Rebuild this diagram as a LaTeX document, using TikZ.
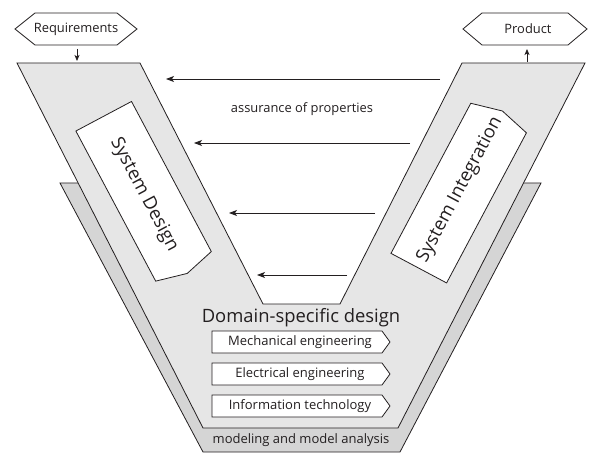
\documentclass[tikz,border=0pt]{standalone}
\usepackage{fontspec}
\setmainfont{Open Sans}
\usetikzlibrary{arrows.meta}
\definecolor{frontgray}{HTML}{E6E6E6}
\definecolor{backgray}{HTML}{D5D5D5}
\definecolor{ink}{HTML}{231F20}
\begin{document}
\begin{tikzpicture}[x=1pt,y=-1pt,line join=miter,
  outline/.style={draw=ink,line width=0.8pt},
  assure/.style={draw=ink,line width=0.9pt,-{Stealth[length=8pt,width=6pt,inset=2pt]}},
  smallarrow/.style={draw=ink,line width=0.8pt,-{Stealth[length=6pt,width=5pt,inset=1.5pt]}},
  lbl/.style={font=\fontsize{12.9}{15}\selectfont,text=ink,inner sep=0pt},
  big/.style={font=\fontsize{18.4}{21}\selectfont,text=ink,inner sep=0pt},
  mid/.style={font=\fontsize{13}{15}\selectfont,text=ink,inner sep=0pt},
  boxfill/.style={fill=white,draw=ink,line width=0.8pt}]
\useasboundingbox (0,0) rectangle (600,465);
% back layer
\path[fill=backgray,outline] (60,183) -- (100,183) -- (220,410) -- (380,410) -- (500,183) -- (541,183) -- (400,452) -- (203,452) -- cycle;
% front V
\path[fill=frontgray,outline] (17,63) -- (140,63) -- (263,304) -- (340,304) -- (462,63) -- (585,63) -- (398,428) -- (203,428) -- cycle;
% hexagons
\path[boxfill] (15,29) -- (35,13) -- (117,13) -- (137,29) -- (117,45) -- (35,45) -- cycle;
\node[lbl] (req) at (76,29) {Requirements};
\path[boxfill] (463,29) -- (482,13) -- (568,13) -- (587,29) -- (568,45) -- (482,45) -- cycle;
\node[lbl] (prod) at (528,29) {Product};
\coordinate (reqA) at (77,49); \coordinate (reqB) at (77,61);
\draw[smallarrow] (reqA) -- (reqB);
\coordinate (prodA) at (527,62); \coordinate (prodB) at (527,49);
\draw[smallarrow] (prodA) -- (prodB);
% assurance arrows
\coordinate (a1s) at (440,79); \coordinate (a1e) at (166,79);
\coordinate (a2s) at (410,143); \coordinate (a2e) at (194,143);
\coordinate (a3s) at (375,213); \coordinate (a3e) at (229,213);
\coordinate (a4s) at (347,275); \coordinate (a4e) at (257,275);
\draw[assure] (a1s) -- (a1e);
\draw[assure] (a2s) -- (a2e);
\draw[assure] (a3s) -- (a3e);
\draw[assure] (a4s) -- (a4e);
\node[lbl] (assur) at (302,109) {assurance of properties};
% System Design box
\path[boxfill,shift={(143.6pt,-191.3pt)},rotate=-62]
  (-85pt,-31.5pt) -- (85pt,-31.5pt) -- (93pt,0pt) -- (85pt,31.5pt) -- (-85pt,31.5pt) -- cycle;
\node[big,rotate=-62] (sd) at (144,195) {System Design};
% System Integration box
\path[boxfill,shift={(458.7pt,-193.1pt)},rotate=62]
  (-85pt,-31.5pt) -- (85pt,-31.5pt) -- (93pt,0pt) -- (85pt,31.5pt) -- (-85pt,31.5pt) -- cycle;
\node[big,rotate=62] (si) at (460,190) {System Integration};
% domain-specific
\node[big] (dsd) at (301,318) {Domain-specific design};
\path[boxfill] (212,331) -- (382,331) -- (390,342) -- (382,353) -- (212,353) -- cycle;
\node[mid] (mech) at (300,342) {Mechanical engineering};
\path[boxfill] (212,363) -- (382,363) -- (390,374) -- (382,385) -- (212,385) -- cycle;
\node[mid] (elec) at (300,374) {Electrical engineering};
\path[boxfill] (212,395) -- (382,395) -- (390,406) -- (382,417) -- (212,417) -- cycle;
\node[mid] (info) at (300,406) {Information technology};
\node[mid] (model) at (301,440) {modeling and model analysis};
\end{tikzpicture}
\end{document}
